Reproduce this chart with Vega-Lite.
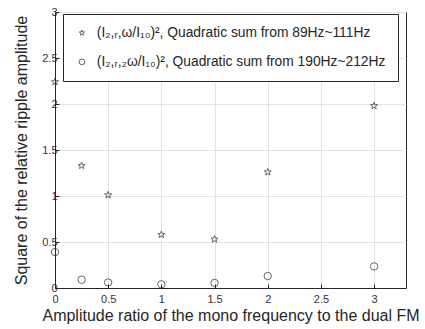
{
  "$schema": "https://vega.github.io/schema/vega-lite/v6.json",
  "autosize": "none",
  "width": 351,
  "height": 276,
  "padding": {"left": 55, "top": 12, "right": 19, "bottom": 41},
  "background": "white",
  "config": {
    "font": "Liberation Sans",
    "view": {"stroke": "#262626", "strokeWidth": 1},
    "axis": {
      "labelFont": "Liberation Sans",
      "titleFont": "Liberation Sans",
      "labelColor": "#333333",
      "titleColor": "#262626",
      "domainColor": "#262626",
      "tickColor": "#262626",
      "gridColor": "#e3e3e3",
      "titleFontWeight": "normal",
      "labelFontSize": 11,
      "titleFontSize": 16
    }
  },
  "data": {
    "values": [
      {"ratio": 0, "value": 2.24, "series": "stars"},
      {"ratio": 0.25, "value": 1.33, "series": "stars"},
      {"ratio": 0.5, "value": 1.01, "series": "stars"},
      {"ratio": 1, "value": 0.58, "series": "stars"},
      {"ratio": 1.5, "value": 0.53, "series": "stars"},
      {"ratio": 2, "value": 1.26, "series": "stars"},
      {"ratio": 3, "value": 1.98, "series": "stars"},
      {"ratio": 0, "value": 0.39, "series": "circles"},
      {"ratio": 0.25, "value": 0.09, "series": "circles"},
      {"ratio": 0.5, "value": 0.06, "series": "circles"},
      {"ratio": 1, "value": 0.04, "series": "circles"},
      {"ratio": 1.5, "value": 0.055, "series": "circles"},
      {"ratio": 2, "value": 0.13, "series": "circles"},
      {"ratio": 3, "value": 0.235, "series": "circles"}
    ]
  },
  "mark": {"type": "point", "filled": false, "color": "#262626", "strokeWidth": 1, "size": 55, "clip": false},
  "encoding": {
    "x": {
      "field": "ratio", "type": "quantitative",
      "scale": {"domain": [0, 3.3], "nice": false},
      "axis": {"values": [0, 0.5, 1, 1.5, 2, 2.5, 3], "format": "~g", "title": "Amplitude ratio of the mono frequency to the dual FM", "tickSize": -4, "labelPadding": 9, "titlePadding": 3, "labelFlush": false}
    },
    "y": {
      "field": "value", "type": "quantitative",
      "scale": {"domain": [0, 3], "nice": false},
      "axis": {"values": [0, 0.5, 1, 1.5, 2, 2.5, 3], "format": "~g", "title": "Square of the relative ripple amplitude", "tickSize": -4, "labelPadding": 2, "titlePadding": 12, "labelFlush": false}
    },
    "shape": {
      "field": "series", "type": "nominal",
      "scale": {
        "domain": ["stars", "circles"],
        "range": ["M0,-1L0.235,-0.324L0.951,-0.309L0.380,0.124L0.588,0.809L0,0.4L-0.588,0.809L-0.380,0.124L-0.951,-0.309L-0.235,-0.324Z", "circle"]
      },
      "legend": {
        "title": null,
        "orient": "none",
        "legendX": 8,
        "legendY": 2,
        "direction": "vertical",
        "labelExpr": "datum.value == 'stars' ? '(I₂,ᵣ,ω/I₁₀)², Quadratic sum from 89Hz~111Hz' : '(I₂,ᵣ,₂ω/I₁₀)², Quadratic sum from 190Hz~212Hz'",
        "labelFontSize": 13.8,
        "labelFont": "Liberation Sans",
        "labelColor": "#262626",
        "labelLimit": 0,
        "symbolSize": 32,
        "symbolStrokeColor": "#262626",
        "symbolFillColor": "white",
        "symbolStrokeWidth": 1,
        "symbolOffset": 0,
        "rowPadding": 14,
        "labelOffset": 8,
        "padding": 12,
        "strokeColor": "#262626",
        "fillColor": "white",
        "cornerRadius": 0
      }
    }
  }
}
